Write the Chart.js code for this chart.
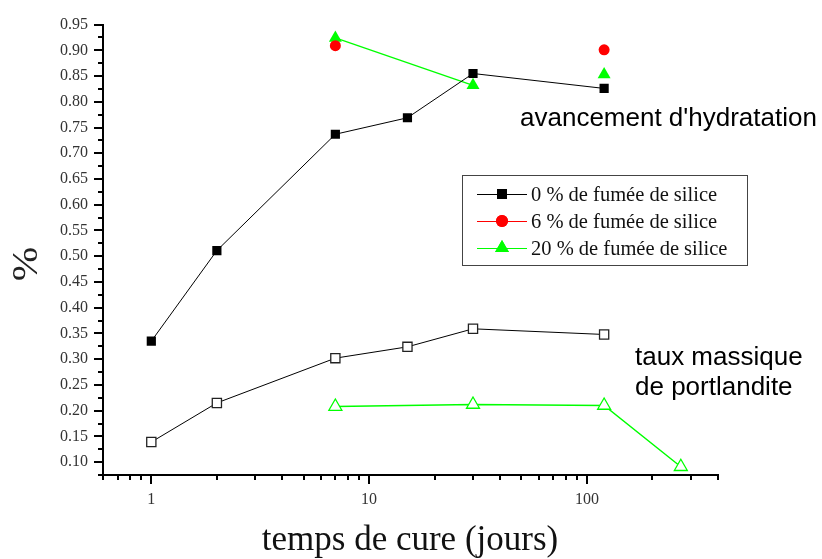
<!DOCTYPE html>
<html>
<head>
<meta charset="utf-8">
<script src="https://cdn.jsdelivr.net/npm/chart.js@4.4.0/dist/chart.umd.min.js"></script>
<style>
html,body{margin:0;padding:0;background:#fff;}
#wrap{width:822px;height:559px;position:relative;}
</style>
</head>
<body>
<div id="wrap"><canvas id="c" width="822" height="559"></canvas></div>
<script>
// data
const days = [1, 2, 7, 15, 30, 120];
const hyd0 = [0.335, 0.511, 0.737, 0.769, 0.855, 0.826];
const days6 = [7, 120];
const hyd6 = [0.909, 0.901];
const days20 = [7, 30, 120];
const hyd20 = [0.924, 0.832, 0.853];
const portl0 = [0.139, 0.215, 0.302, 0.324, 0.359, 0.348];
const days20p = [7, 30, 120, 270];
const portl20 = [0.208, 0.212, 0.210, 0.091];

const xMajor = [1, 10, 100];
const xMinor = [0.6, 0.7, 0.8, 0.9, 2, 3, 4, 5, 6, 7, 8, 9, 20, 30, 40, 50, 60, 70, 80, 90, 200, 300, 400];
const yMajor = [0.10,0.15,0.20,0.25,0.30,0.35,0.40,0.45,0.50,0.55,0.60,0.65,0.70,0.75,0.80,0.85,0.90,0.95];
const yMinor = [0.075,0.125,0.175,0.225,0.275,0.325,0.375,0.425,0.475,0.525,0.575,0.625,0.675,0.725,0.775,0.825,0.875,0.925];

const legendItems = ['0 % de fumée de silice', '6 % de fumée de silice', '20 % de fumée de silice'];
const GREEN = '#00ff00', RED = '#ff0000', BLACK = '#000000';

const pts = (xs, ys) => xs.map((x, i) => ({x: x, y: ys[i]}));

const extras = {
  id: 'extras',
  afterDraw(chart) {
    const ctx = chart.ctx, xs = chart.scales.x, ys = chart.scales.y;
    const left = chart.chartArea.left, bottom = chart.chartArea.bottom;
    ctx.save();
    ctx.strokeStyle = '#000';
    ctx.lineWidth = 2;
    // y ticks
    yMajor.forEach(v => { const p = Math.round(ys.getPixelForValue(v)); ctx.beginPath(); ctx.moveTo(left - 9, p); ctx.lineTo(left, p); ctx.stroke(); });
    yMinor.forEach(v => { const p = Math.round(ys.getPixelForValue(v)); ctx.beginPath(); ctx.moveTo(left - 5, p); ctx.lineTo(left, p); ctx.stroke(); });
    // x ticks
    xMajor.forEach(v => { const p = Math.round(xs.getPixelForValue(v)); ctx.beginPath(); ctx.moveTo(p, bottom); ctx.lineTo(p, bottom + 9); ctx.stroke(); });
    xMinor.forEach(v => { const p = Math.round(xs.getPixelForValue(v)); ctx.beginPath(); ctx.moveTo(p, bottom); ctx.lineTo(p, bottom + 5); ctx.stroke(); });

    // axis titles
    ctx.fillStyle = '#111';
    ctx.font = '35px "Liberation Serif"';
    ctx.textAlign = 'center';
    ctx.textBaseline = 'alphabetic';
    ctx.fillText('temps de cure (jours)', 410, 550);
    ctx.save();
    ctx.translate(37, 264);
    ctx.rotate(-Math.PI / 2);
    ctx.scale(1.15, 1);
    ctx.fillStyle = '#222';
    ctx.font = '36px "Liberation Serif"';
    ctx.fillText('%', 0, 0);
    ctx.restore();

    // annotations
    ctx.fillStyle = '#000';
    ctx.font = '26px "Liberation Sans"';
    ctx.textAlign = 'left';
    ctx.fillText("avancement d'hydratation", 520, 126);
    ctx.fillText('taux massique', 635, 365);
    ctx.fillText('de portlandite', 635, 395);

    // legend
    ctx.lineWidth = 1;
    ctx.strokeStyle = '#444';
    ctx.strokeRect(462.5, 175.5, 285, 90);
    const ds = chart.data.datasets;
    const rowsY = [194, 221, 248];
    ctx.font = '20.5px "Liberation Serif"';
    legendItems.forEach((t, i) => {
      const d = ds[i];
      ctx.strokeStyle = d.borderColor;
      ctx.lineWidth = 1;
      ctx.beginPath(); ctx.moveTo(477, rowsY[i] + 0.5); ctx.lineTo(527, rowsY[i] + 0.5); ctx.stroke();
      ctx.fillStyle = d.pointBackgroundColor;
      Chart.helpers.drawPoint(ctx, {pointStyle: d.pointStyle, radius: d.pointRadius + 0.5, borderWidth: 0, rotation: 0}, 502, rowsY[i]);
      ctx.fill();
      ctx.fillStyle = '#111';
      ctx.fillText(t, 531, rowsY[i] + 7);
    });
    ctx.restore();
  }
};

new Chart(document.getElementById('c'), {
  type: 'line',
  data: {
    datasets: [
      {label: legendItems[0], data: pts(days, hyd0), borderColor: BLACK, borderWidth: 1,
       pointStyle: 'rect', pointRadius: 6.5, pointBackgroundColor: BLACK, pointBorderColor: BLACK, pointBorderWidth: 0},
      {label: legendItems[1], data: pts(days6, hyd6), borderColor: RED, borderWidth: 1, showLine: false,
       pointStyle: 'circle', pointRadius: 5.5, pointBackgroundColor: RED, pointBorderColor: RED, pointBorderWidth: 0},
      {label: legendItems[2], data: pts(days20, hyd20), borderColor: GREEN, borderWidth: 1.3,
       segment: {borderColor: c => c.p1DataIndex === 2 ? 'rgba(0,0,0,0)' : GREEN},
       pointStyle: 'triangle', pointRadius: 7.5, pointBackgroundColor: GREEN, pointBorderColor: GREEN, pointBorderWidth: 0},
      {label: 'portlandite 0', data: pts(days, portl0), borderColor: BLACK, borderWidth: 1,
       pointStyle: 'rect', pointRadius: 6.5, pointBackgroundColor: '#fff', pointBorderColor: '#222', pointBorderWidth: 1.3},
      {label: 'portlandite 20', data: pts(days20p, portl20), borderColor: GREEN, borderWidth: 1.5,
       pointStyle: 'triangle', pointRadius: 7.5, pointBackgroundColor: '#fff', pointBorderColor: GREEN, pointBorderWidth: 1.3}
    ]
  },
  options: {
    responsive: false,
    animation: false,
    layout: {padding: {top: 22, right: 104, left: 0, bottom: 0}},
    plugins: {legend: {display: false}, tooltip: {enabled: false}},
    elements: {line: {tension: 0, fill: false}},
    scales: {
      x: {
        type: 'logarithmic', min: 0.6, max: 400,
        afterBuildTicks: s => { s.ticks = xMajor.map(v => ({value: v})); },
        afterFit: s => { s.height = 84; },
        grid: {display: true, drawOnChartArea: false, drawTicks: false},
        border: {display: true, color: '#000', width: 2},
        ticks: {padding: 15, color: '#333', font: {family: 'Liberation Serif', size: 16},
                maxRotation: 0, autoSkip: false, callback: v => String(v)}
      },
      y: {
        type: 'linear', min: 0.075, max: 0.95,
        afterBuildTicks: s => { s.ticks = yMajor.map(v => ({value: v})); },
        afterFit: s => { s.width = 103; },
        grid: {display: true, drawOnChartArea: false, drawTicks: false},
        border: {display: true, color: '#000', width: 2},
        ticks: {padding: 15, color: '#333', font: {family: 'Liberation Serif', size: 16},
                autoSkip: false, callback: v => Number(v).toFixed(2)}
      }
    }
  },
  plugins: [extras]
});
</script>
</body>
</html>
